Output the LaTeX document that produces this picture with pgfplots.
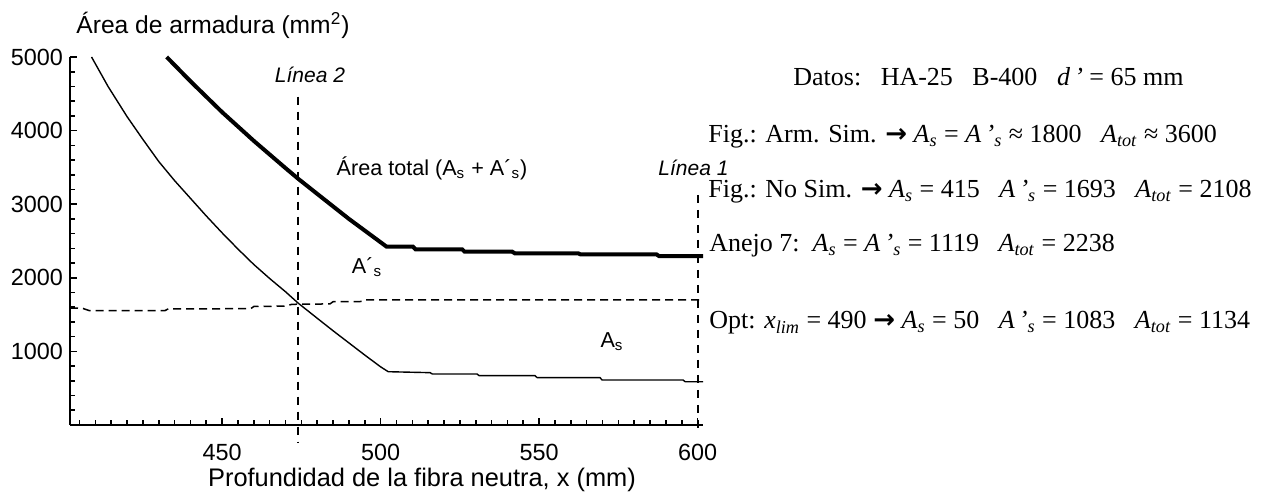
\documentclass[border=0pt]{standalone}
\usepackage{fontspec}
\setmainfont{Liberation Serif}
\newfontfamily\arial{Liberation Sans}
\newfontfamily\dejavu{DejaVu Sans}
\usepackage{pgfplots}
\pgfplotsset{compat=1.18}
\newcommand{\sub}[1]{\textsubscript{\textit{#1}}}
\newcommand{\As}{\textit{A}\sub{s}}
\newcommand{\Aps}{\textit{A\,’}\sub{s}}
\newcommand{\Atot}{\textit{A}\sub{tot}}
\newcommand{\arr}{{\dejavu\bfseries →}}
\newcommand{\gap}{\hspace{0.75em}}
\begin{document}
\begin{tikzpicture}[x=1pt,y=1pt]
\path[use as bounding box] (0,0) rectangle (637.5,248);
\begin{axis}[at={(35pt,35.5pt)}, anchor=south west, scale only axis,
  width=316.5pt, height=184pt,
  xmin=402, xmax=601.7, ymin=0, ymax=5000,
  axis lines*=left, axis line style={line width=1pt},
  tick align=inside,
  xtick={450,500,550,600}, ytick={1000,2000,3000,4000,5000},
  minor xtick={405,410,...,600}, minor ytick={200,400,...,4800},
  major tick length=3.5pt, minor tick length=2.5pt,
  every tick/.style={line width=0.8pt, black},
  tick label style={font=\arial\fontsize{11.7}{13}\selectfont},
  xticklabel style={yshift=-6pt},
  /pgf/number format/assume math mode=true,
  /pgf/number format/1000 sep={},
  clip=false]
% Area total (thick)
\addplot[black, line width=2pt] coordinates {
(432.5,5000) (440,4670) (450,4250) (460,3860) (470,3490) (474,3345) (480,3140)
(490,2800) (501.9,2422) (510.2,2422) (511,2387) (525.7,2387) (526.5,2355)
(541.5,2355) (542.3,2333) (562.3,2333) (563,2319) (587,2319) (587.8,2296) (601.7,2296)};
% thin curve
\addplot[black, line width=0.7pt] coordinates {
(408.8,5000) (414,4600) (420,4190) (425,3880) (430,3580) (435,3320) (440,3080)
(445,2840) (450,2610) (455,2390) (460,2180) (465,1990) (470,1810) (474,1655)
(480,1450) (485,1280) (490,1115) (495,950) (500,790) (502.4,724) (515.6,711)
(516.3,693) (530.4,693) (531.1,670) (548.7,670) (549.4,643) (569.2,643)
(569.9,611) (595.4,611) (596.1,588) (601.7,588)};
% dashed horizontal
\addplot[black, line width=0.75pt, dash pattern=on 4pt off 2.5pt] coordinates {
(402,1590) (406,1585) (408,1555) (432,1555) (433,1578) (459,1580) (460,1610)
(470,1615) (472,1640) (484,1645) (485,1675) (494,1678) (495,1700) (601.7,1700)};
% Linea 2 and Linea 1
\addplot[black, line width=1pt, dash pattern=on 4pt off 3.5pt] coordinates {(474,4460) (474,-245)};
\addplot[black, line width=1pt, dash pattern=on 4pt off 3.5pt] coordinates {(600,3125) (600,-70)};
\node[font=\arial\itshape\fontsize{10.5}{12}\selectfont] at (axis cs:477.7,4755) {Línea 2};
\node[anchor=west, inner sep=0pt, font=\arial\itshape\fontsize{10.5}{12}\selectfont] at (axis cs:587.5,3500) {Línea 1};
\node[font=\arial\fontsize{10.8}{12}\selectfont] at (axis cs:516.2,3492) {Área total (A\textsubscript{s} + A´\textsubscript{s})};
\node[font=\arial\fontsize{10.8}{12}\selectfont] at (axis cs:495.7,2147) {A´\textsubscript{s}};
\node[font=\arial\fontsize{10.8}{12}\selectfont] at (axis cs:573,1128) {A\textsubscript{s}};
\end{axis}
\node[font=\arial\fontsize{12.3}{14}\selectfont] at (106.5,235.5) {Área de armadura (mm\textsuperscript{2})};
\node[font=\arial\fontsize{12.7}{14}\selectfont] at (211,8) {Profundidad de la fibra neutra, x (mm)};
\begin{scope}[every node/.style={anchor=west, inner sep=0pt, font=\fontsize{13}{15}\selectfont}]
\node at (396.5,209.5) {Datos:\gap HA-25\gap B-400\gap \textit{d\,’} = 65 mm};
\node at (354,179.5) {Fig.: Arm. Sim. \arr{} \As{} = \Aps{} ≈ 1800\gap \Atot{} ≈ 3600};
\node at (354,152) {Fig.: No Sim. \arr{} \As{} = 415\gap \Aps{} = 1693\gap \Atot{} = 2108};
\node at (354.5,125) {Anejo 7:\, \As{} = \Aps{} = 1119\gap \Atot{} = 2238};
\node at (354.5,86.5) {Opt: \textit{x}\sub{lim} = 490 \arr{} \As{} = 50\gap \Aps{} = 1083\gap \Atot{} = 1134};
\end{scope}
\end{tikzpicture}
\end{document}
